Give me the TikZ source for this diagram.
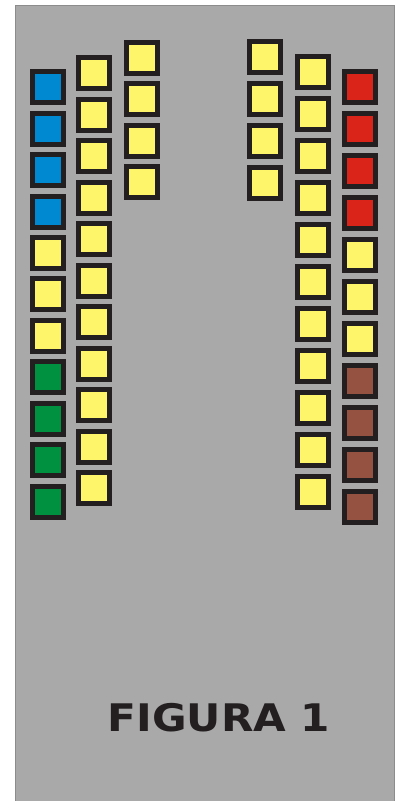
\documentclass[tikz,border=0pt]{standalone}
\usepackage{fontspec}
\newfontfamily\labelfont{DejaVu Sans}
\usetikzlibrary{positioning}
\definecolor{panel}{HTML}{A9A9A9}
\definecolor{panelrim}{HTML}{8C8C8C}
\definecolor{rim}{HTML}{231F20}
\definecolor{cyel}{HTML}{FFF56B}
\definecolor{cblue}{HTML}{0089D0}
\definecolor{cgreen}{HTML}{009140}
\definecolor{cred}{HTML}{DB2419}
\definecolor{cbrown}{HTML}{955240}
\tikzset{
  cell/.style={draw=rim, line width=5pt, minimum size=31pt, inner sep=0pt},
}

\begin{document}
\begin{tikzpicture}[x=1pt,y=-1pt]
\useasboundingbox (0,0) rectangle (401,801);
% grey panel, runs off the bottom
\fill[panel] (15,5) rectangle (395,801);
\draw[panelrim, line width=1pt] (15.5,801) -- (15.5,5.5) -- (394.5,5.5) -- (394.5,801);
% left block: outer, middle, inner column
\foreach \r/\col in {1/cblue,2/cblue,3/cblue,4/cblue,5/cyel,6/cyel,7/cyel,8/cgreen,9/cgreen,10/cgreen,11/cgreen}
  \node[cell, fill=\col] (a\r) at (48.2,{87.2+41.45*(\r-1)}) {};
\foreach \r in {1,...,11}
  \node[cell, fill=cyel] (b\r) at (94.3,{73+41.5*(\r-1)}) {};
\foreach \r in {1,...,4}
  \node[cell, fill=cyel] (c\r) at (142,{57.7+41.5*(\r-1)}) {};
% right block: inner, middle, outer column
\foreach \r in {1,...,4}
  \node[cell, fill=cyel] (d\r) at (264.7,{57+42*(\r-1)}) {};
\foreach \r in {1,...,11}
  \node[cell, fill=cyel] (e\r) at (312.8,{72.3+42*(\r-1)}) {};
\foreach \r/\col in {1/cred,2/cred,3/cred,4/cred,5/cyel,6/cyel,7/cyel,8/cbrown,9/cbrown,10/cbrown,11/cbrown}
  \node[cell, fill=\col] (f\r) at (359.7,{87+41.95*(\r-1)}) {};
% caption
\node[anchor=base, inner sep=0pt, text=rim, font=\labelfont\bfseries\fontsize{38}{40}\selectfont] (title) at (219,731) {\scalebox{1.11}[1]{FIGURA 1}};
\end{tikzpicture}
\end{document}
